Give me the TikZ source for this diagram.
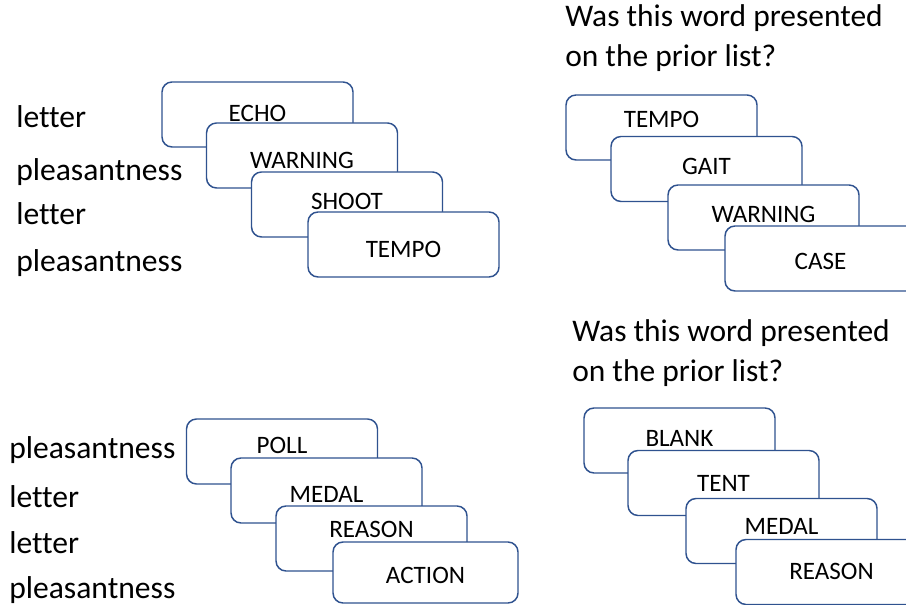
\documentclass[tikz,border=0pt]{standalone}
\usepackage{fontspec}
\setmainfont{Carlito}[Ligatures={NoCommon}]
\definecolor{cardblue}{RGB}{47,82,143}

\begin{document}
\begin{tikzpicture}[x=0.75pt,y=-0.75pt,
	card/.style={draw=cardblue, fill=white, line width=1.1pt, rounded corners=7.5pt,
		minimum width=143.25pt, minimum height=48.75pt, inner sep=0pt,
		font=\fontsize{18.8}{20}\selectfont},
	drop/.style={text depth=7.5pt, text height=#1},
	cue/.style={anchor=base west, inner sep=0pt, font=\fontsize{23.7}{28}\selectfont},
	question/.style={anchor=base west, inner sep=0pt, align=left,
		font=\fontsize{23.6}{30}\selectfont}]
	
	\useasboundingbox (0,0) rectangle (906,605);
	\clip (0,0) rectangle (906,605);
	
	% first study list
	\node[cue] (cueA1) at (16,128) {letter};
	\node[cue] (cueA2) at (16,181) {pleasantness};
	\node[cue] (cueA3) at (16,225) {letter};
	\node[cue] (cueA4) at (16,272) {pleasantness};
	
	\node[card, drop=18.75pt] (studyA1) at (257.5,114.5) {ECHO};
	\node[card, drop=27.75pt] (studyA2) at (302,155.5) {WARNING};
	\node[card, drop=15.75pt] (studyA3) at (347,204.5) {SHOOT};
	\node[card, drop=27.75pt] (studyA4) at (403.5,244.5) {TEMPO};
	
	% first test list (anchor is the baseline of the last line)
	\node[question] (askA) at (565,67) {Was this word presented\\on the prior list?};
	
	\node[card, drop=8.25pt] (testA1) at (661.5,127.5) {TEMPO};
	\node[card, drop=15.75pt] (testA2) at (706.5,169) {GAIT};
	\node[card, drop=15.75pt] (testA3) at (763.5,217.5) {WARNING};
	\node[card, drop=24.75pt] (testA4) at (820.5,258.5) {CASE};
	
	% second study list
	\node[cue] (cueB1) at (9,458) {pleasantness};
	\node[cue] (cueB2) at (9,507) {letter};
	\node[cue] (cueB3) at (9,553) {letter};
	\node[cue] (cueB4) at (9,598) {pleasantness};
	
	\node[card, drop=9.75pt] (studyB1) at (282,451.5) {POLL};
	\node[card, drop=24.75pt] (studyB2) at (326.5,490.5) {MEDAL};
	\node[card, drop=5.25pt] (studyB3) at (371.5,538.5) {REASON};
	\node[card, drop=23.25pt, minimum width=138.75pt, minimum height=45.75pt] (studyB4) at (425.5,572.5) {ACTION};
	
	% second test list
	\node[question] (askB) at (572,382) {Was this word presented\\on the prior list?};
	
	\node[card, drop=15.75pt] (testB1) at (679.5,440.5) {BLANK};
	\node[card, drop=20.25pt] (testB2) at (723.5,483) {TENT};
	\node[card, drop=12.75pt] (testB3) at (781.5,531) {MEDAL};
	\node[card, drop=18.75pt] (testB4) at (831.5,572) {REASON};
	
\end{tikzpicture}
\end{document}
